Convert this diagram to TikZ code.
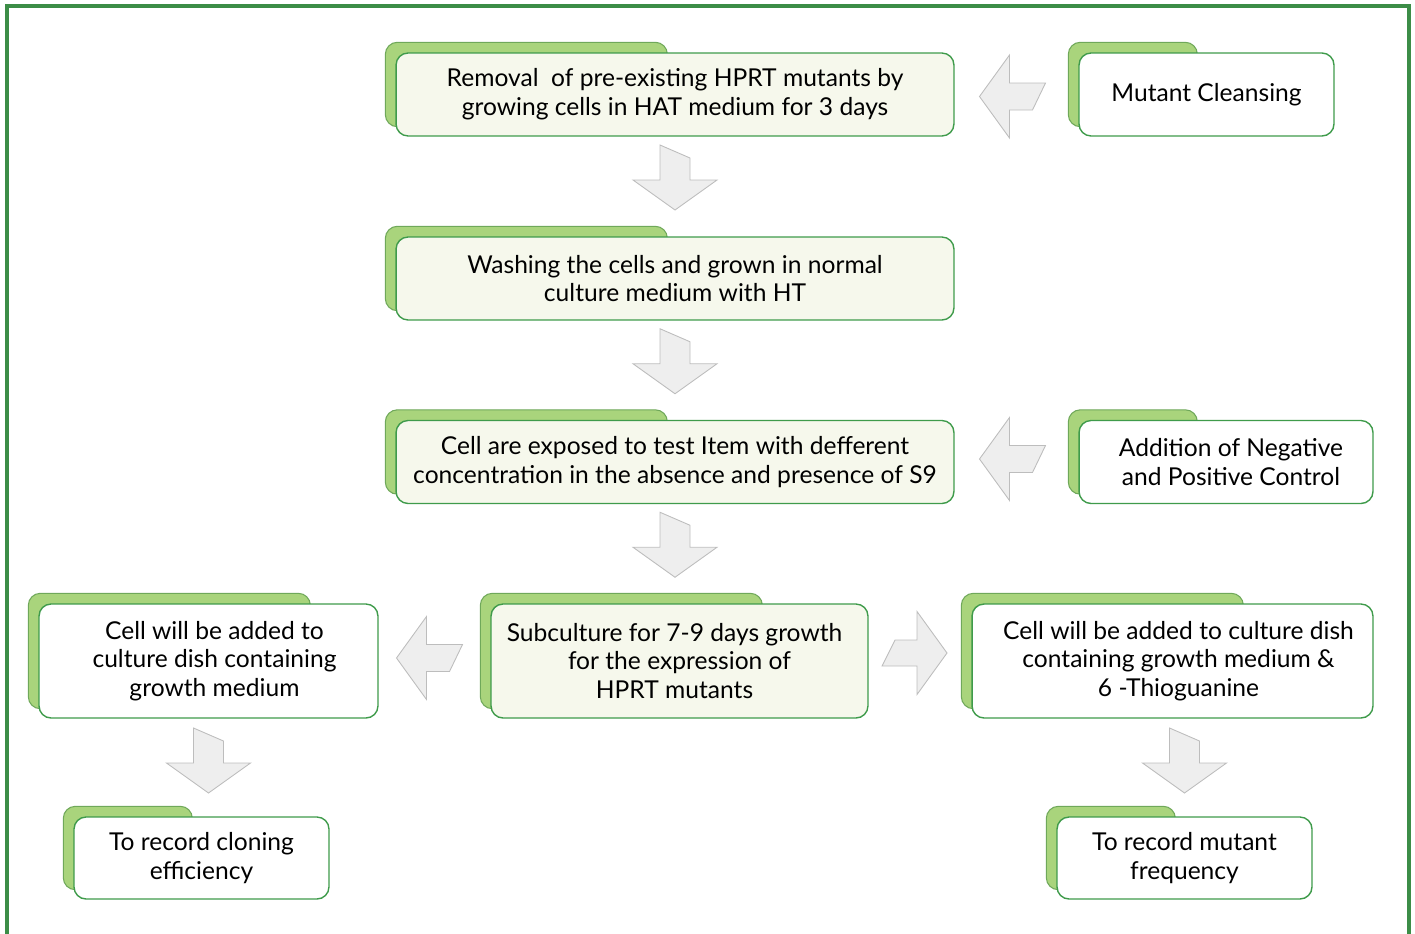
\documentclass[tikz,border=0pt]{standalone}
\usepackage{fontspec}
\setmainfont{Lato}
\usepackage{tikz}
\usetikzlibrary{calc, backgrounds}
\definecolor{FrameGreen}{HTML}{3C8D47}
\definecolor{BoxGreen}{HTML}{3F9B4B}
\definecolor{TabGreen}{HTML}{A9D47C}
\definecolor{TabEdge}{HTML}{6FA85A}
\definecolor{PaleFill}{HTML}{F6F8EC}
\definecolor{ArrowFill}{HTML}{EEEEEE}
\definecolor{ArrowEdge}{HTML}{BDBDBD}

\tikzset{
  stepbox/.style={draw=BoxGreen, line width=0.8pt, rounded corners=0.24cm,
    fill=white, align=center, inner sep=0pt, minimum height=1.66cm,
    font=\fontsize{14}{16.4}\selectfont},
  mainbox/.style={stepbox, fill=PaleFill},
  tabshape/.style={fill=TabGreen, draw=TabEdge, line width=0.6pt, rounded corners=0.24cm},
  blockarr/.style={fill=ArrowFill, draw=ArrowEdge, line width=0.5pt, line join=miter},
  downarr/.pic={\filldraw[blockarr] (-15,-32.5) -- (15,-19.5) -- (15,2.5) -- (42,2.5)
    -- (0,32.5) -- (-42,2.5) -- (-15,2.5) -- cycle;},
  leftarr/.pic={\filldraw[blockarr] (33,-13.5) -- (20,13.5) -- (-3,13.5) -- (-3,41.5)
    -- (-33,0) -- (-3,-41.5) -- (-3,-13.5) -- cycle;},
  rightarr/.pic={\filldraw[blockarr] (-20,-13) -- (2,-13) -- (2,-41.5) -- (32,0)
    -- (2,41.5) -- (2,13) -- (-33,13) -- cycle;}
}
\newcommand{\greentab}[2]{\filldraw[tabshape] ($(#1.north west)+(-10,-10)$) rectangle ($(#1.south west)+(#2-10,-10)$);}

\begin{document}
\begin{tikzpicture}[x=0.02cm, y=-0.02cm]
  \useasboundingbox (0,0) rectangle (1415,933);
  % frame, open at the bottom
  \draw[FrameGreen, line width=2.3pt] (7,950) -- (7,6) -- (1409,6) -- (1409,950);

  % main chain
  \node[mainbox, minimum width=11.16cm] (remove) at (675,94.5)
    {Removal\ \ of pre-existing HPRT mutants by\\growing cells in HAT medium for 3 days};
  \node[mainbox, minimum width=11.16cm] (wash) at (675,278.5)
    {Washing the cells and grown in normal\\culture medium with HT};
  \node[mainbox, minimum width=11.16cm] (expose) at (675,462)
    {Cell are exposed to test Item with defferent\\concentration in the absence and presence of S9};
  \node[mainbox, minimum width=7.54cm, minimum height=2.28cm] (subcult) at (679.5,661)
    {Subculture for 7-9 days growth\hspace*{0.2cm}\\for the expression of\hspace*{0.2cm}\\HPRT mutants\hspace*{0.2cm}};

  % side boxes
  \node[stepbox, minimum width=5.1cm] (cleanse) at (1206.5,94.5) {Mutant Cleansing};
  \node[stepbox, minimum width=5.88cm] (control) at (1226,462)
    {\hspace{0.2cm}Addition of Negative\\\hspace{0.2cm}and Positive Control};
  \node[stepbox, minimum width=6.78cm, minimum height=2.28cm] (leftcell) at (208.5,661)
    {\hspace{0.24cm}Cell will be added to\\\hspace{0.24cm}culture dish containing\\\hspace{0.24cm}growth medium};
  \node[stepbox, minimum width=8.02cm, minimum height=2.28cm] (rightcell) at (1172.5,661)
    {\hspace{0.24cm}Cell will be added to culture dish\\\hspace{0.24cm}containing growth medium \&\\\hspace{0.24cm}6 -Thioguanine};
  \node[stepbox, minimum width=5.1cm, minimum height=1.64cm] (cloning) at (201.5,858)
    {To record cloning\\efficiency};
  \node[stepbox, minimum width=5.1cm, minimum height=1.64cm] (mutfreq) at (1184.5,858)
    {To record mutant\\frequency};

  \begin{scope}[on background layer]
    \greentab{remove}{282}
    \greentab{wash}{282}
    \greentab{expose}{282}
    \greentab{subcult}{282}
    \greentab{cleanse}{129}
    \greentab{control}{129}
    \greentab{leftcell}{282}
    \greentab{rightcell}{282}
    \greentab{cloning}{129}
    \greentab{mutfreq}{129}
  \end{scope}

  % block arrows
  \pic at ($(remove.south)!0.5!(wash.north)+(0,-9)$) {downarr};
  \pic at ($(wash.south)!0.5!(expose.north)+(0,-9)$) {downarr};
  \pic at ($(expose.south)!0.5!(subcult.north -| expose.south)+(0,-9)$) {downarr};
  \pic at ($(leftcell.south)!0.5!(cloning.north -| leftcell.south)+(0,-7)$) {downarr};
  \pic at ($(rightcell.south -| mutfreq.north)!0.5!(mutfreq.north)+(0,-7)$) {downarr};
  \pic at ($(remove.east)!0.5!(cleanse.west)+(-4,2)$) {leftarr};
  \pic at ($(expose.east)!0.5!(control.west)+(-4,-3)$) {leftarr};
  \pic at ($(leftcell.east)!0.5!(subcult.west)+(-5,-3)$) {leftarr};
  \pic at ($(subcult.east)!0.5!(rightcell.west)+(-5,-8)$) {rightarr};
\end{tikzpicture}
\end{document}
